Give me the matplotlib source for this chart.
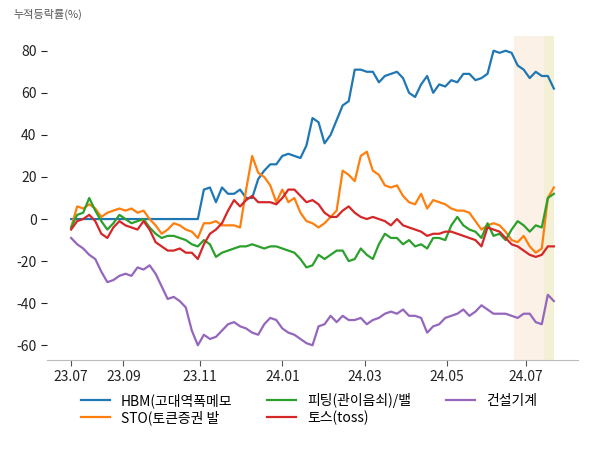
import numpy as np
import matplotlib.pyplot as plt

plt.rcParams['font.family'] = ['Noto Sans CJK KR', 'DejaVu Sans']
plt.rcParams['axes.unicode_minus'] = False

# 거래일 인덱스 (3거래일 간격 샘플)
days = np.arange(0, 243, 3)

hbm = [0, 0, 0, 0, 0, 0, 0, 0, 0, 0,
       0, 0, 0, 0, 0, 0, 0, 0, 0, 0,
       0, 0, 14, 15, 8, 15, 12, 12, 14, 10,
       10, 19, 23, 26, 26, 30, 31, 30, 29, 35,
       48, 46, 36, 40, 47, 54, 56, 71, 71, 70,
       70, 65, 68, 69, 70, 67, 60, 58, 64, 68,
       60, 64, 63, 66, 65, 69, 69, 66, 67, 69,
       80, 79, 80, 79, 73, 71, 67, 70, 68, 68,
       62]
sto = [-4, 6, 5, 7, 5, 1, 3, 4, 5, 4,
       5, 3, 4, 0, -3, -7, -5, -2, -3, -5,
       -6, -9, -2, -2, -1, -3, -3, -3, -4, 14,
       30, 22, 20, 16, 8, 14, 8, 10, 3, -1,
       -2, -4, -2, 1, 4, 23, 21, 18, 30, 32,
       23, 21, 16, 15, 16, 11, 8, 7, 12, 5,
       9, 8, 7, 5, 4, 4, 3, -1, -5, -3,
       -2, -3, -6, -10, -11, -8, -13, -16, -14, 10,
       15]
fitting = [-4, 2, 3, 10, 4, -1, -5, -2, 2, 0,
           -2, -1, 0, -4, -7, -9, -8, -8, -9, -10,
           -12, -13, -10, -12, -18, -16, -15, -14, -13, -13,
           -12, -13, -14, -13, -13, -14, -15, -16, -19, -23,
           -22, -17, -19, -17, -15, -15, -20, -19, -14, -17,
           -19, -12, -7, -9, -9, -12, -10, -13, -12, -14,
           -9, -9, -10, -3, 1, -3, -5, -6, -9, -2,
           -8, -7, -10, -5, -1, -3, -6, -3, -4, 10,
           12]
toss = [-5, -1, 0, 2, -1, -7, -9, -4, -1, -3,
        -4, -5, -1, -5, -11, -13, -15, -15, -14, -16,
        -16, -19, -12, -7, -5, -2, 4, 9, 6, 9,
        11, 8, 8, 8, 7, 10, 14, 14, 11, 8,
        9, 7, 3, 1, 1, 4, 6, 3, 1, 0,
        1, 0, -1, -3, 0, -3, -4, -5, -6, -8,
        -7, -7, -6, -6, -7, -8, -9, -10, -13, -4,
        -5, -6, -9, -12, -13, -15, -17, -18, -17, -13,
        -13]
construction = [-9, -12, -14, -17, -19, -25, -30, -29, -27, -26,
                -27, -23, -24, -22, -26, -32, -38, -37, -39, -42,
                -53, -60, -55, -57, -56, -53, -50, -49, -51, -52,
                -54, -55, -50, -47, -48, -52, -54, -55, -57, -59,
                -60, -51, -50, -46, -49, -46, -48, -48, -47, -50,
                -48, -47, -45, -44, -45, -43, -46, -46, -47, -54,
                -51, -50, -47, -46, -45, -43, -46, -44, -41, -43,
                -45, -45, -45, -46, -47, -45, -45, -49, -50, -36,
                -39]

labels = ['HBM(고대역폭메모', 'STO(토큰증권 발', '피팅(관이음쇠)/밸', '토스(toss)', '건설기계']
series = [hbm, sto, fitting, toss, construction]

tick_days = [0, 26, 64, 105, 146, 187, 226]
tick_labels = ['23.07', '23.09', '23.11', '24.01', '24.03', '24.05', '24.07']

span1 = (220, 235)
span2 = (235, 240)

fig = plt.figure(figsize=(6, 4.5), dpi=100)
ax = fig.add_axes([47 / 600, 1 - 360 / 450, 531 / 600, 324 / 450])

ax.axvspan(*span1, color='#fbf1e6', lw=0, zorder=0)
ax.axvspan(*span2, color='#f4f0d6', lw=0, zorder=0)

for vals, lab in zip(series, labels):
    ax.plot(days, vals, label=lab, linewidth=1.6)

ax.set_xticks(tick_days)
ax.set_xticklabels(tick_labels)
ax.set_yticks(range(-60, 81, 20))
ax.tick_params(labelsize=10, colors='#222222')
ax.tick_params(axis='x', length=4, color='#555555')
ax.tick_params(axis='y', length=4, color='#222222')

for s in ['left', 'top', 'right']:
    ax.spines[s].set_visible(False)
ax.spines['bottom'].set_color('#bbbbbb')

fig.text(13 / 600, 1 - 14 / 450, '누적등락률(%)', fontsize=8, color='#555555', va='center')

fig.legend(loc='upper center', bbox_to_anchor=(0.515, 0.155), ncol=3, frameon=False,
           fontsize=10, handlelength=2.1, columnspacing=2.5, labelspacing=0.2)

fig.savefig('out.png')
